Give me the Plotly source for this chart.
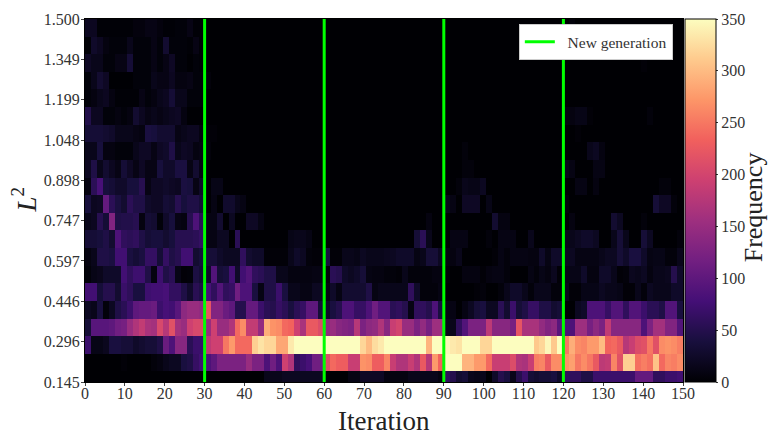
import plotly.graph_objects as go

y_tick_labels = ["0.145", "0.296", "0.446", "0.597", "0.747", "0.898", "1.048", "1.199", "1.349", "1.500"]
x_tick_values = [0, 10, 20, 30, 40, 50, 60, 70, 80, 90, 100, 110, 120, 130, 140, 150]
generation_iters = [30, 60, 90, 120]

Z = [0] * 20
row_00 = [19,19,2,2,2,2,2,2,6,6,11,11,6,2,2,4,4,11,2,2] + Z + Z + Z + [0,5,0,0,0,0,0,0,0,0,0,0,0,0,0,0,0,0,0,0]
row_01 = [2,26,19,8,4,4,4,15,4,4,4,11,4,30,4,4,4,2,11,2] + Z + Z + Z + Z
row_02 = [22,15,15,4,4,11,11,34,4,4,4,11,4,11,22,4,4,0,4,2] + Z + Z + Z + [0,0,0,0,0,0,0,0,0,0,0,0,0,3,0,0,0,0,0,0]
row_03 = [4,15,30,22,0,0,0,0,4,4,4,15,11,11,19,8,8,11,4,4] + [5,0,0,0,0,0,0,0,0,0,0,0,0,0,0,0,0,0,0,0] + Z + Z + Z
row_04 = [4,8,15,19,8,2,2,2,2,11,4,8,15,19,34,15,15,4,4,4] + Z + Z + Z + Z
row_05 = [48,19,19,4,4,8,4,8,30,19,11,15,11,15,19,22,8,0,0,0] + Z + Z + Z + [8,8,12,12,3,0,0,0,0,0,0,0,0,0,5,0,0,0,0,0]
row_06 = [34,34,34,30,26,15,15,15,11,8,41,38,30,30,30,11,15,19,19,8] + [3,3,0,0,0,0,0,0,0,0,0,0,0,0,0,0,0,0,0,0] + Z + Z + [0,0,3,0,0,0,0,0,0,0,0,0,0,0,0,0,0,0,0,0]
row_07 = [15,15,38,8,8,4,4,4,15,22,22,11,22,26,45,15,22,19,8,11] + [5,0,0,0,0,0,0,0,0,0,0,0,0,0,0,0,0,0,0,0] + Z + [0,0,0,5,0,0,0,0,0,0,0,0,0,0,0,0,0,0,0,0] + [0,0,0,0,15,20,8,0,0,0,0,0,0,0,0,0,0,0,0,0]
row_08 = [19,45,15,30,19,11,34,22,11,22,11,11,38,26,26,41,41,11,30,11] + Z + Z + [0,0,0,5,5,0,0,0,0,0,0,0,0,0,0,0,0,0,0,0] + [15,10,0,0,0,10,10,0,0,0,0,0,0,0,0,0,0,0,0,0]
row_09 = [8,56,80,38,34,26,26,38,38,52,11,22,22,26,22,19,41,38,11,26] + [0,12,12,0,0,0,0,0,0,0,0,0,0,0,0,0,0,0,0,0] + Z + [0,0,5,15,12,12,20,0,0,0,0,0,0,0,0,0,0,0,0,0] + [0,0,10,10,0,8,0,0,0,0,0,0,0,0,0,0,5,5,0,0]
row_10 = [38,19,22,105,56,41,30,56,45,45,26,22,22,34,30,52,38,45,45,34] + [0,10,0,28,28,15,10,0,0,0,0,0,0,0,0,0,0,0,0,0] + Z + [15,10,0,22,22,22,0,12,0,0,0,0,0,0,0,0,0,0,0,0] + [5,0,0,0,0,0,0,0,0,0,0,0,0,0,0,35,22,22,5,0]
row_11 = [15,19,52,34,130,45,48,48,52,8,34,30,4,26,38,11,8,52,85,56] + [10,10,30,0,20,0,0,22,22,10,0,0,0,0,0,0,0,0,0,0] + [0,0,0,0,0,0,0,0,0,0,0,0,0,0,0,0,0,8,0,0] + [0,0,0,0,0,0,0,0,30,8,8,0,0,0,0,0,0,0,0,0] + [0,8,0,0,0,0,0,0,30,20,0,0,0,5,0,0,0,0,0,0]
row_12 = [34,34,38,45,30,85,60,56,60,45,34,38,38,30,38,52,52,52,56,64] + [10,10,20,20,0,55,0,0,0,0,0,0,0,0,12,15,15,10,0,0] + [0,0,0,0,0,0,0,0,0,0,0,0,0,0,0,35,55,15,0,0] + [0,10,10,10,0,0,0,5,0,10,10,10,0,0,15,0,0,0,0,0] + [15,15,20,25,25,20,0,0,15,35,15,0,0,35,20,0,0,0,0,5]
row_13 = [8,15,45,45,41,75,75,41,34,41,64,64,34,64,45,52,75,75,30,38] + [35,35,25,20,20,20,60,30,25,25,3,3,3,3,15,25,20,5,3,3] + [40,3,3,15,15,12,20,15,15,15,18,20,25,25,25,10,15,35,35,20] + [8,8,15,0,0,0,0,0,3,10,5,10,10,10,8,8,25,10,25,25] + [20,20,10,10,10,10,15,20,20,35,25,40,40,25,10,12,12,5,5,15]
row_14 = [4,12,16,25,25,25,76,60,72,72,46,8,72,46,55,12,3,4,42,34] + [25,90,35,40,75,25,75,90,60,55,45,45,15,15,8,8,8,8,10,10] + [5,55,50,25,20,25,35,10,8,8,5,5,3,15,5,5,5,5,8,8] + [3,0,0,8,8,8,3,8,10,10,5,0,0,0,10,5,12,8,18,3] + [12,12,12,25,8,8,25,25,15,3,5,18,15,20,8,15,15,18,50,25]
row_15 = [76,76,36,50,50,30,68,58,40,40,72,76,76,80,62,62,45,27,54,45] + [80,60,90,60,65,115,85,85,40,10,45,45,70,40,15,15,10,10,20,20] + [10,25,10,30,30,30,30,45,10,15,15,15,15,15,60,25,5,5,5,10] + [0,0,0,0,0,3,5,0,0,5,15,25,25,15,5,15,15,15,5,5] + [15,3,3,12,12,12,20,15,15,12,3,3,15,5,20,15,15,15,25,25]
row_16 = [20,15,40,5,20,45,55,70,100,105,105,110,70,80,75,95,140,150,150,145] + [220,130,130,110,100,50,50,105,105,70,55,50,65,55,40,55,65,100,100,35] + [25,40,50,85,85,65,65,85,115,90,90,55,60,50,10,60,60,50,85,40] + [10,10,0,10,20,35,40,20,20,55,30,70,35,45,65,65,45,45,30,35] + [0,0,20,25,85,85,85,65,90,90,60,90,90,70,55,55,45,90,90,40]
row_17 = [35,95,95,95,100,115,120,150,170,185,165,160,205,175,215,160,150,195,205,205] + [150,195,150,150,170,240,265,185,185,145,290,270,265,240,235,195,165,225,225,210] + [145,150,135,130,125,175,125,140,145,170,135,190,200,150,150,125,145,120,155,155] + [15,15,60,90,125,125,125,180,135,135,135,120,220,165,165,165,145,130,140,95] + [85,85,155,155,120,140,125,185,135,135,135,135,135,85,125,160,160,130,130,90]
row_18 = [70,12,12,18,40,40,35,35,25,30,35,35,45,110,85,135,135,55,70,70] + [180,195,195,250,275,240,240,240,315,330,320,320,285,285,335,350,350,350,350,350] + [350,350,350,350,350,350,320,300,325,335,350,350,350,350,350,350,350,295,350,350] + [345,335,330,350,350,350,320,320,350,350,350,350,350,350,350,310,320,345,310,350] + [250,290,265,260,275,275,300,235,240,225,175,190,210,215,250,215,265,270,265,255]
row_19 = [0,0,0,0,0,0,3,0,0,0,0,5,8,15,20,20,40,45,65,75] + [85,100,125,125,125,125,125,150,125,125,85,115,85,195,170,60,70,80,115,115] + [210,240,230,230,190,190,270,265,230,230,260,190,170,170,190,170,225,175,275,235] + [350,350,350,295,295,275,275,240,190,190,190,210,170,165,190,255,260,225,265,265] + [270,280,250,265,250,225,180,185,260,215,315,315,245,255,245,305,240,260,255,265]
row_20 = [0,0,0,0,0,0,0,0,0,0,0,0,0,0,0,0,0,0,0,0] + [0,0,0,0,0,0,0,0,0,0,15,15,15,20,20,20,20,20,20,20] + [0,0,0,0,10,10,22,22,22,22,8,8,8,8,15,15,15,15,15,8] + [60,50,30,35,15,12,15,0,25,50,40,15,50,70,35,30,35,35,40,25] + [60,60,60,45,45,70,70,70,70,70,70,70,105,105,105,60,60,70,70,75]

rows_top_down = [row_00, row_01, row_02, row_03, row_04, row_05, row_06, row_07, row_08, row_09, row_10,
                 row_11, row_12, row_13, row_14, row_15, row_16, row_17, row_18, row_19, row_20]

n_cols, n_rows = 100, 21
x_max, y_top, y_bin = 150.0, 1.5, 0.0657
y_low = 0.145
x_edges = [x_max * i / n_cols for i in range(n_cols + 1)]
y_edges = [y_top - y_bin * (n_rows - i) for i in range(n_rows + 1)]
y_ticks = [float(v) for v in y_tick_labels]

serif = "Liberation Serif"
title_font = dict(family=serif, size=27, color="#222")
fig = go.Figure()
fig.add_trace(go.Heatmap(
    x=x_edges, y=y_edges, z=rows_top_down[::-1], zmin=0, zmax=350,
    colorscale="Magma", showlegend=False, hoverinfo="skip",
    colorbar=dict(
        x=1.003, xanchor="left", xref="paper", y=0.5, yanchor="middle", len=1, lenmode="fraction",
        thickness=31, thicknessmode="pixels", outlinewidth=1, outlinecolor="black",
        tickvals=[0, 50, 100, 150, 200, 250, 300, 350], ticks="outside", ticklen=2, tickcolor="#333",
        tickfont=dict(family=serif, size=16, color="#333"), ypad=0, xpad=0,
    ),
))
line_x, line_y = [], []
for g in generation_iters:
    line_x += [g, g, None]
    line_y += [y_low, y_top, None]
fig.add_trace(go.Scatter(x=line_x, y=line_y, mode="lines", name="\u00a0\u00a0New generation",
                         line=dict(color="#00ff00", width=3), hoverinfo="skip"))

fig.update_layout(
    width=768, height=430, autosize=False,
    margin=dict(l=85, r=85, t=19, b=48, pad=0),
    paper_bgcolor="white", plot_bgcolor="black",
    showlegend=True,
    legend=dict(x=0.983, xanchor="right", y=0.986, yanchor="top", bgcolor="white",
                bordercolor="#ccc", borderwidth=1, font=dict(family=serif, size=15.5, color="#333")),
    xaxis=dict(range=[0, 150], tickvals=x_tick_values, ticks="outside", ticklen=3, showgrid=False, zeroline=False,
               automargin=False, ticklabelstandoff=-6, tickfont=dict(family=serif, size=16, color="#333"),
               showline=True, mirror=True, linecolor="black", linewidth=1),
    yaxis=dict(range=[y_low, y_top], tickvals=y_ticks, ticktext=y_tick_labels, ticks="outside", ticklen=3,
               showgrid=False, zeroline=False, automargin=False, ticklabelstandoff=-2,
               tickfont=dict(family=serif, size=16, color="#333"),
               showline=True, mirror=True, linecolor="black", linewidth=1),
    annotations=[
        dict(text="Frequency", xref="paper", yref="paper", x=1.118, y=0.48, xanchor="center", yanchor="middle",
             textangle=-90, showarrow=False, font=dict(family=serif, size=26, color="#222")),
        dict(text="Iteration", xref="paper", yref="paper", x=0.5, y=-0.107, xanchor="center", yanchor="middle",
             showarrow=False, font=title_font),
        dict(text="<i>L</i><sup>2</sup>", xref="paper", yref="paper", x=-0.102, y=0.5, xanchor="center", yanchor="middle",
             textangle=-90, showarrow=False, font=title_font),
    ],
)
fig.write_html("out.html", post_script="document.body.style.margin='0';", config={"displayModeBar": False})
